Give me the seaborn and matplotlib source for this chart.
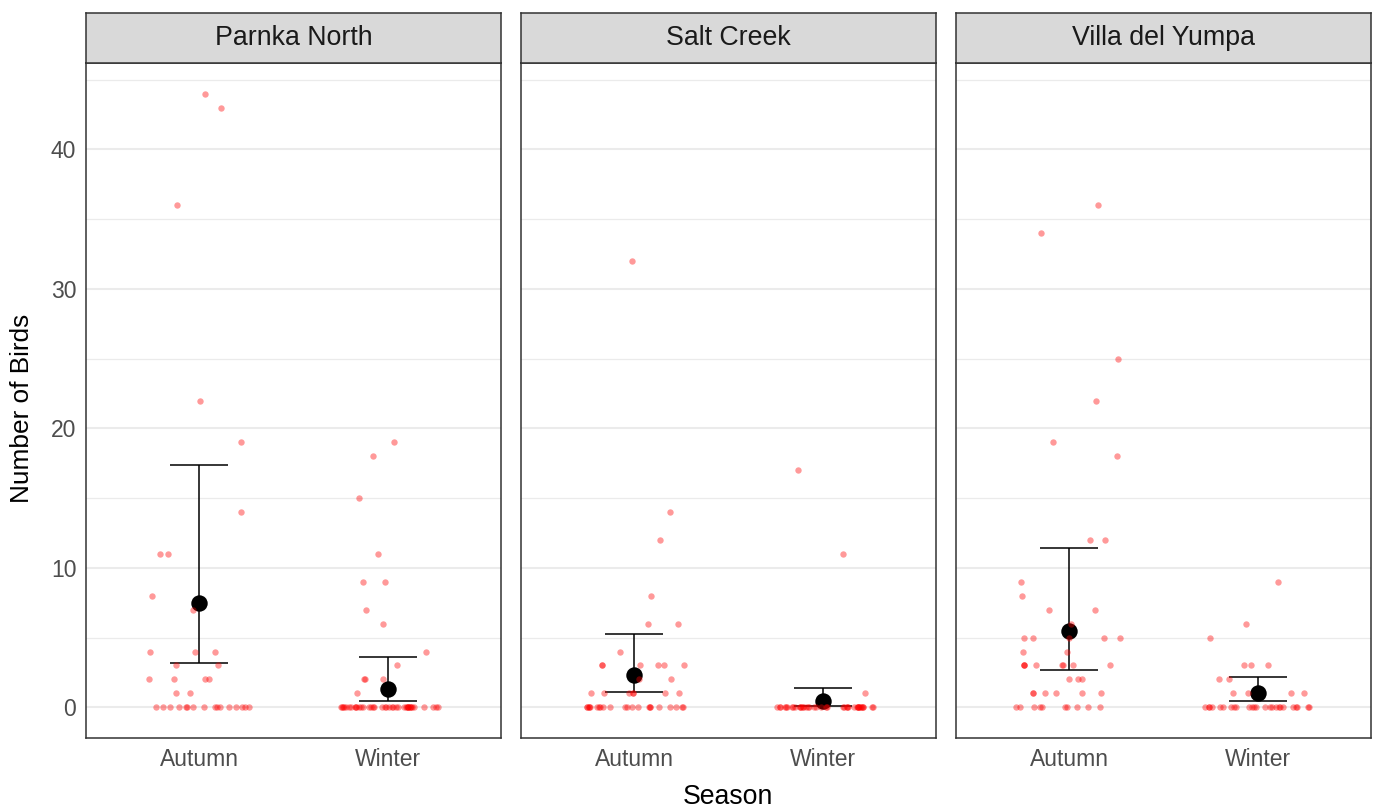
import numpy as np
import pandas as pd
import matplotlib
matplotlib.use("Agg")
import matplotlib.pyplot as plt
import seaborn as sns

# ---------------- data ----------------
sites = ["Parnka North", "Salt Creek", "Villa del Yumpa"]
seasons = ["Autumn", "Winter"]

parnka_autumn = [44, 43, 36, 22, 19, 14, 11, 11, 8, 7, 4, 4, 4, 3, 3, 2, 2, 2, 2, 1, 1] + [0] * 16
parnka_winter = [19, 18, 15, 11, 9, 9, 7, 6, 4, 3, 2, 2, 2, 1] + [0] * 40
salt_autumn = [32, 14, 12, 8, 6, 6, 4, 3, 3, 3, 3, 3, 3, 2, 2, 1, 1, 1, 1, 1, 1, 1] + [0] * 22
salt_winter = [17, 11, 1] + [0] * 40
villa_autumn = [36, 34, 25, 22, 19, 18, 12, 12, 9, 8, 7, 7, 6, 5, 5, 5, 5, 5, 4, 4,
                3, 3, 3, 3, 3, 3, 3, 3, 2, 2, 2, 1, 1, 1, 1, 1, 1] + [0] * 10
villa_winter = [9, 6, 5, 3, 3, 3, 2, 2, 1, 1, 1, 1] + [0] * 25

counts = {
    ("Parnka North", "Autumn"): parnka_autumn,
    ("Parnka North", "Winter"): parnka_winter,
    ("Salt Creek", "Autumn"): salt_autumn,
    ("Salt Creek", "Winter"): salt_winter,
    ("Villa del Yumpa", "Autumn"): villa_autumn,
    ("Villa del Yumpa", "Winter"): villa_winter,
}

# estimated mean and interval
mean_vals = {"Parnka North": [7.45, 1.29], "Salt Creek": [2.29, 0.43], "Villa del Yumpa": [5.5, 1.0]}
lower_vals = {"Parnka North": [3.2, 0.43], "Salt Creek": [1.07, 0.08], "Villa del Yumpa": [2.65, 0.43]}
upper_vals = {"Parnka North": [17.35, 3.58], "Salt Creek": [5.23, 1.35], "Villa del Yumpa": [11.4, 2.15]}

y_ticks = [0, 10, 20, 30, 40]
y_minor = [5, 15, 25, 35, 45]

rows = []
for (site, season), vals in counts.items():
    for v in vals:
        rows.append({"Site": site, "Season": season, "Birds": v})
df = pd.DataFrame(rows)

# ---------------- figure ----------------
np.random.seed(3)
sns.set_style("white")
plt.rcParams["font.family"] = ["Liberation Sans", "DejaVu Sans"]

W, H = 1374, 808
fig = plt.figure(figsize=(W / 100, H / 100), dpi=100)

panel_left = [86, 521, 956]
panel_w = 415
p_top, p_bot = 63, 738
strip_top = 13

frame_col = "#333333"
grid_col = "#EBEBEB"

for i, site in enumerate(sites):
    ax = fig.add_axes([panel_left[i] / W, 1 - p_bot / H, panel_w / W, (p_bot - p_top) / H])
    ax.set_xlim(-0.6, 1.6)
    ax.set_ylim(-2.2, 46.2)
    ax.set_yticks(y_ticks)
    ax.set_yticks(y_minor, minor=True)
    ax.grid(True, which="major", color=grid_col, lw=1.5, zorder=0)
    ax.grid(True, which="minor", axis="y", color=grid_col, lw=0.9, zorder=0)
    ax.set_axisbelow(True)

    pos = np.arange(len(seasons))
    m = np.array(mean_vals[site])
    lo = np.array(lower_vals[site])
    hi = np.array(upper_vals[site])
    ax.errorbar(pos, m, yerr=[m - lo, hi - m], fmt="none", ecolor="black",
                elinewidth=1.1, capsize=21, capthick=1.1, zorder=2)
    ax.scatter(pos, m, s=140, color="black", zorder=3, linewidths=0)

    sub = df[df["Site"] == site]
    sns.stripplot(data=sub, x="Season", y="Birds", order=seasons, jitter=0.28,
                  color="red", alpha=0.4, size=4.6, linewidth=0, ax=ax, zorder=4)
    ax.set_xlim(-0.6, 1.6)
    ax.set_ylim(-2.2, 46.2)

    ax.set_xlabel("")
    ax.set_ylabel("")
    for s in ax.spines.values():
        s.set_color(frame_col)
        s.set_linewidth(1.1)
        s.set_visible(True)
    ax.tick_params(axis="both", which="major", length=4, width=1.1, color=frame_col,
                   labelsize=16.5, labelcolor="#4D4D4D", pad=3)
    ax.tick_params(axis="y", which="minor", length=0)
    if i > 0:
        ax.tick_params(axis="y", which="major", length=0, labelleft=False)

    # strip
    sax = fig.add_axes([panel_left[i] / W, 1 - p_top / H, panel_w / W, (p_top - strip_top) / H])
    sax.set_xlim(0, 1)
    sax.set_ylim(0, 1)
    sax.set_facecolor("#D9D9D9")
    sax.set_xticks([])
    sax.set_yticks([])
    for s in sax.spines.values():
        s.set_color(frame_col)
        s.set_linewidth(1.1)
    sax.text(0.5, 0.5, site, ha="center", va="center", fontsize=19.3, color="#1A1A1A")

fig.text(22 / W, 1 - 408 / H, "Number of Birds", rotation=90, ha="center", va="center",
         fontsize=18.9, color="black")
fig.text(728 / W, 1 - 797 / H, "Season", ha="center", va="center", fontsize=19.2, color="black")

fig.savefig("out.png", dpi=100)
